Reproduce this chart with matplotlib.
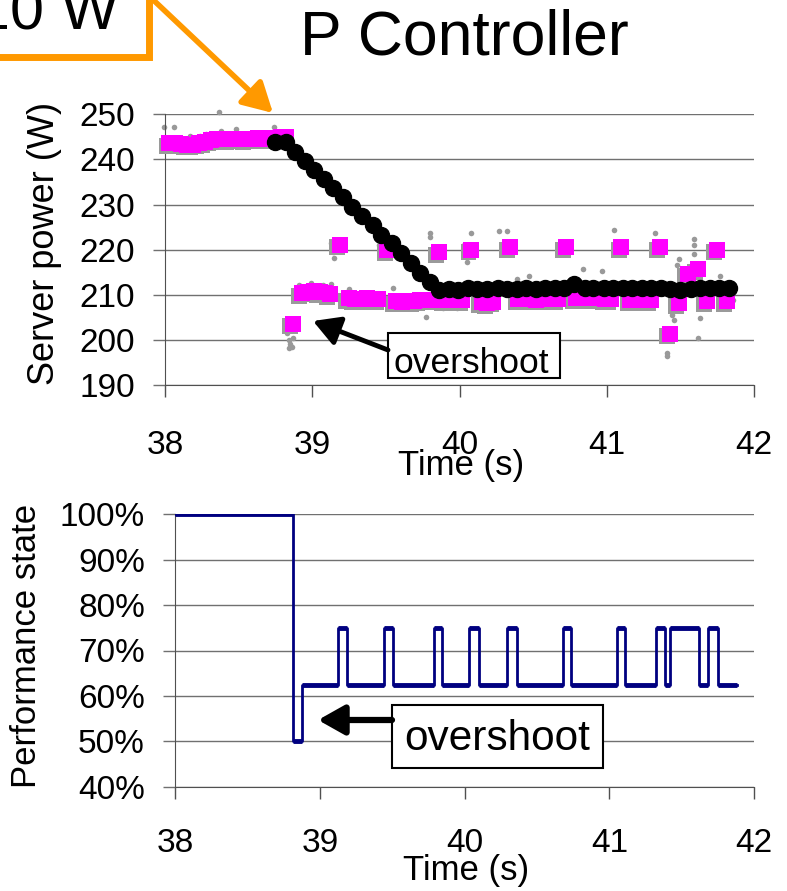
import matplotlib
matplotlib.use("Agg")
import matplotlib.pyplot as plt
import matplotlib.patheffects as pe
from matplotlib.patches import Rectangle, FancyArrowPatch
from matplotlib.ticker import PercentFormatter

plt.rcParams['font.family'] = ['Liberation Sans', 'DejaVu Sans']

W, H = 787, 891

# ---- top chart: server power ----
# magenta squares (averaged power)
pink_t = [38.03, 38.07, 38.11, 38.15, 38.19, 38.23, 38.27, 38.31, 38.35, 38.39, 38.43,
          38.47, 38.51, 38.55, 38.59, 38.63, 38.67, 38.71, 38.75, 38.79, 38.82,
          38.87,
          38.93, 38.97, 39.01, 39.05, 39.09, 39.12,
          39.19,
          39.25, 39.29, 39.33, 39.37, 39.41, 39.45,
          39.51,
          39.57, 39.61, 39.65, 39.69, 39.73, 39.77, 39.81,
          39.86,
          39.90, 39.94, 39.98, 40.02,
          40.08,
          40.15, 40.19, 40.23,
          40.34,
          40.40, 40.44, 40.48, 40.52, 40.56, 40.60, 40.64, 40.67,
          40.72,
          40.79, 40.83, 40.87, 40.91, 40.95, 40.99, 41.03,
          41.10,
          41.16, 41.20, 41.24, 41.28, 41.30,
          41.36, 41.43, 41.49, 41.55, 41.62, 41.68, 41.75, 41.815]
pink_w = [243.6, 243.7, 243.5, 243.3, 243.3, 243.6, 243.8, 244.3, 244.5, 244.6, 244.5,
          244.6, 244.6, 244.5, 244.6, 244.7, 244.6, 244.7, 244.8, 244.9, 244.9,
          203.6,
          210.4, 210.7, 210.8, 210.6, 210.5, 210.2,
          221.1,
          209.2, 209.1, 209.0, 209.2, 209.1, 209.0,
          219.9,
          208.6, 208.5, 208.7, 208.6, 208.8, 208.9, 208.9,
          219.5,
          208.8, 208.8, 208.9, 208.8,
          220.0,
          208.3, 208.2, 208.5,
          220.5,
          209.0, 209.0, 209.1, 208.9, 209.0, 209.0, 209.1, 209.0,
          220.5,
          209.3, 209.4, 209.3, 209.2, 209.3, 209.0, 209.0,
          220.5,
          208.8, 208.8, 208.8, 208.8, 208.8,
          220.5, 201.4, 208.2, 214.7, 215.7, 208.6, 220.0, 208.6]

# black circles (power cap set by controller)
cap_t = [38.75, 38.82, 38.88, 38.95, 39.01, 39.08, 39.14, 39.21, 39.27, 39.34, 39.41, 39.47,
         39.54, 39.60, 39.67, 39.73, 39.80, 39.86, 39.93, 39.99, 40.06, 40.12, 40.19, 40.26,
         40.32, 40.39, 40.45, 40.52, 40.58, 40.65, 40.71, 40.78, 40.85, 40.91, 40.98, 41.04,
         41.11, 41.17, 41.24, 41.30, 41.37, 41.43, 41.50, 41.57, 41.63, 41.70, 41.76, 41.83]
cap_w = [243.9, 243.9, 241.7, 239.6, 237.6, 235.6, 233.6, 231.6, 229.5, 227.5, 225.5, 223.2,
         221.4, 219.3, 217.0, 214.9, 212.9, 211.0, 211.3, 211.0, 211.4, 211.3, 211.2, 211.4,
         211.3, 211.2, 211.4, 211.3, 211.5, 211.4, 211.6, 212.4, 211.5, 211.4, 211.5, 211.4,
         211.5, 211.4, 211.5, 211.4, 211.4, 211.2, 211.0, 211.3, 211.5, 211.6, 211.6, 211.6]

# grey dots (raw samples)
raw_t = [37.99, 38.06, 38.17, 38.24, 38.28, 38.37, 38.38, 38.48, 38.74,
         38.83, 38.84, 38.85, 38.86, 38.87, 38.84,
         38.91, 38.99, 39.07, 39.13, 39.13, 39.14, 39.15,
         39.25, 39.45, 39.55, 39.77, 39.77, 39.80, 39.80, 39.88,
         39.89, 39.98, 40.03, 40.05, 40.08, 40.15, 40.27, 40.29, 40.32, 40.39, 40.47,
         40.51, 40.67, 40.73, 40.84, 40.97,
         41.05, 41.33, 41.41, 41.41, 41.46, 41.46, 41.46, 41.49, 41.47, 41.59, 41.59,
         41.59, 41.62, 41.63, 41.77, 41.86, 41.71, 41.73, 41.44, 41.48]
raw_w = [247.2, 247.2, 245.3, 245.3, 245.6, 250.4, 246.3, 246.7, 247.2,
         201.5, 200.0, 199.0, 198.5, 200.5, 198.2,
         212.2, 212.7, 212.2, 212.4, 221.5, 219.5, 218.2,
         211.2, 221.0, 211.6, 205.1, 207.7, 223.6, 222.9, 207.3,
         207.0, 207.0, 221.0, 217.3, 223.7, 207.0, 224.2, 219.5, 224.2, 213.6, 214.1,
         207.7, 220.6, 207.7, 215.8, 215.3,
         224.3, 223.7, 197.0, 196.5, 208.8, 206.5, 204.4, 217.9, 212.0, 222.3, 221.0,
         219.0, 200.5, 204.8, 214.2, 208.8, 221.0, 218.5, 205.5, 216.5]

# ---- bottom chart: performance state (step changes) ----
state_t = [38.0, 38.818, 38.875, 39.125, 39.19, 39.44, 39.507, 39.79, 39.845, 40.03, 40.10,
           40.29, 40.36, 40.68, 40.735, 41.05, 41.11, 41.32, 41.38, 41.42, 41.62, 41.68,
           41.75, 41.88]
state_v = [100, 50, 62.5, 75, 62.5, 75, 62.5, 75, 62.5, 75, 62.5,
           75, 62.5, 75, 62.5, 75, 62.5, 75, 62.5, 75, 62.5, 75,
           62.5, 62.5]

x_ticks = [38, 39, 40, 41, 42]
power_ticks = [190, 200, 210, 220, 230, 240, 250]
state_ticks = [40, 50, 60, 70, 80, 90, 100]


def fx(px):
    return px / W


def fy(py):
    return 1 - py / H


fig = plt.figure(figsize=(7.87, 8.91), dpi=100)

grid_c = '#707070'


def style_axes(ax, label_pad):
    ax.spines['top'].set_visible(False)
    ax.spines['right'].set_visible(False)
    ax.spines['left'].set_color('#505050')
    ax.spines['bottom'].set_color('#505050')
    ax.yaxis.grid(True, color=grid_c, lw=1)
    ax.set_axisbelow(True)
    ax.tick_params(axis='y', direction='out', length=8.6, width=1, color=grid_c,
                   labelsize=24, pad=13)
    ax.tick_params(axis='x', direction='out', length=8.6, width=1, color='#505050',
                   labelsize=24, pad=label_pad)


# top axes
ax1 = fig.add_axes([fx(165), fy(385), fx(754) - fx(165), fy(114.3) - fy(385)])
ax1.plot(raw_t, raw_w, 'o', color='#999999', ms=4, mec='none', clip_on=False, zorder=2)
ax1.plot(pink_t, pink_w, 's', color='#FF00FF', ms=11.5, mec='none', clip_on=False, zorder=3,
         path_effects=[pe.SimplePatchShadow(offset=(-2, -2), shadow_rgbFace='#9a9a9a',
                                            alpha=1), pe.Normal()])
ax1.plot(cap_t, cap_w, 'o', color='black', ms=11.5, mec='black', clip_on=False, zorder=4)
ax1.set_xlim(38, 42)
ax1.set_ylim(190, 250)
ax1.set_xticks(x_ticks)
ax1.set_yticks(power_ticks)
style_axes(ax1, 24)
ax1.set_ylabel('Server power (W)', fontsize=26)
ax1.yaxis.set_label_coords(-0.204, 0.524)
ax1.yaxis.label.set_va('center')
ax1.set_xlabel('Time (s)', fontsize=25)
ax1.xaxis.set_label_coords(0.503, -0.296)
ax1.xaxis.label.set_va('center')

# bottom axes
ax2 = fig.add_axes([fx(175), fy(786.7), fx(754.3) - fx(175), fy(514.3) - fy(786.7)])
ax2.step(state_t, state_v, where='post', color='#000080', lw=2, zorder=3)
ax2.hlines(state_v[:-1], state_t[:-1], state_t[1:], color='#000080', lw=3.5, zorder=3)
ax2.set_xlim(38, 42)
ax2.set_ylim(40, 100)
ax2.set_xticks(x_ticks)
ax2.set_yticks(state_ticks)
ax2.yaxis.set_major_formatter(PercentFormatter(decimals=0))
style_axes(ax2, 21)
ax2.set_ylabel('Performance state', fontsize=25)
ax2.yaxis.set_label_coords(-0.2555, 0.515)
ax2.yaxis.label.set_va('center')
ax2.set_xlabel('Time (s)', fontsize=25)
ax2.xaxis.set_label_coords(0.502, -0.309)
ax2.xaxis.label.set_va('center')

# title
fig.text(fx(464), fy(38), 'P Controller', fontsize=45, ha='center', va='center')

# cut-off "10 W" callout with orange arrow
fig.add_artist(Rectangle((fx(-30), fy(57)), fx(179), fy(-30) - fy(57), transform=fig.transFigure,
                         facecolor='white', edgecolor='#FF9900', lw=5, clip_on=False, zorder=5))
fig.text(fx(119), fy(30), '10 W', fontsize=44, ha='right', va='baseline', zorder=6)
fig.add_artist(FancyArrowPatch((fx(147), fy(-6)), (fx(273), fy(113)), transform=fig.transFigure,
                               arrowstyle='-|>,head_length=0.9,head_width=0.5', mutation_scale=20,
                               color='#FF9900', lw=4, shrinkA=0, shrinkB=0, zorder=5))

# overshoot callouts
fig.add_artist(Rectangle((fx(388), fy(378)), fx(560) - fx(388), fy(333) - fy(378),
                         transform=fig.transFigure, facecolor='white', edgecolor='black',
                         lw=1.5, zorder=5))
fig.text(fx(471.5), fy(373), 'overshoot', fontsize=25.5, ha='center', va='baseline', zorder=6)
fig.add_artist(FancyArrowPatch((fx(388), fy(350)), (fx(313), fy(321)), transform=fig.transFigure,
                               arrowstyle='-|>,head_length=0.8,head_width=0.45', mutation_scale=20,
                               color='black', lw=3.5, shrinkA=0, shrinkB=0, zorder=5))

fig.add_artist(Rectangle((fx(391.7), fy(767.7)), fx(603.3) - fx(391.7), fy(705) - fy(767.7),
                         transform=fig.transFigure, facecolor='white', edgecolor='black',
                         lw=1.5, zorder=5))
fig.text(fx(497.5), fy(750), 'overshoot', fontsize=30.5, ha='center', va='baseline', zorder=6)
fig.add_artist(FancyArrowPatch((fx(392), fy(720)), (fx(318), fy(720)), transform=fig.transFigure,
                               arrowstyle='-|>,head_length=0.8,head_width=0.45', mutation_scale=20,
                               color='black', lw=4.5, shrinkA=0, shrinkB=0, zorder=5))

fig.savefig('out.png', dpi=100)
